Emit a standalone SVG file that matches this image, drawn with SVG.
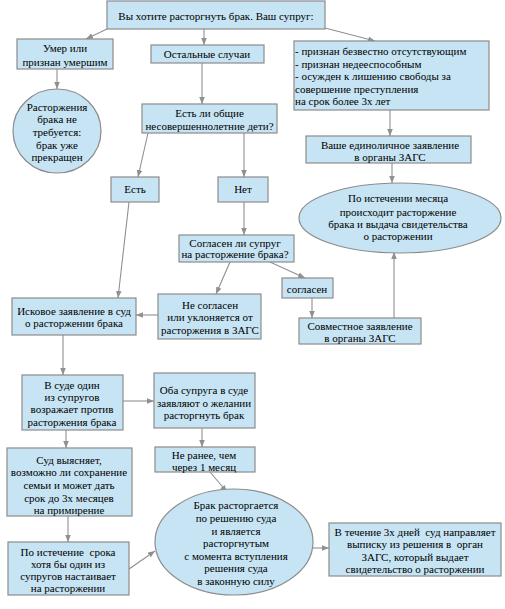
<svg xmlns="http://www.w3.org/2000/svg" width="505" height="609" viewBox="0 0 505 609" font-family="'Liberation Serif', 'Times New Roman', 'DejaVu Serif', serif">
<defs>
<style>
.b{fill:#c6e4f3;stroke:#8c8c8c;stroke-width:1.2}
.t{font-family:'Liberation Serif','Times New Roman','DejaVu Serif',serif;font-size:11px;fill:#000;text-anchor:middle;white-space:pre}
.l{text-anchor:start}
.c{fill:none;stroke:#909090;stroke-width:1.1;marker-end:url(#a)}
</style>
<marker id="a" viewBox="0 0 10 10" refX="10" refY="5" markerWidth="7" markerHeight="7" markerUnits="userSpaceOnUse" orient="auto">
<path d="M0,1 L10,5 L0,9 Z" fill="#909090"/>
</marker>
</defs>
<rect width="505" height="609" fill="#fff"/>
<g id="connectors">
<line class="c" x1="107" y1="29" x2="86" y2="39"/>
<line class="c" x1="57" y1="69" x2="57" y2="89"/>
<line class="c" x1="204" y1="29" x2="204" y2="45"/>
<line class="c" x1="325" y1="28" x2="375" y2="41"/>
<line class="c" x1="202" y1="63" x2="202" y2="104"/>
<line class="c" x1="148" y1="133" x2="138" y2="177"/>
<line class="c" x1="244" y1="133" x2="244" y2="177"/>
<line class="c" x1="390" y1="110" x2="390" y2="136"/>
<line class="c" x1="392" y1="163" x2="392" y2="183"/>
<line class="c" x1="244" y1="202" x2="244" y2="235"/>
<line class="c" x1="129" y1="202" x2="118" y2="298"/>
<line class="c" x1="230" y1="262" x2="216" y2="294"/>
<line class="c" x1="270" y1="262" x2="305" y2="278"/>
<line class="c" x1="312" y1="298" x2="312" y2="318"/>
<line class="c" x1="394" y1="318" x2="394" y2="252"/>
<line class="c" x1="158" y1="315" x2="136" y2="315"/>
<line class="c" x1="63" y1="335" x2="63" y2="375"/>
<line class="c" x1="123" y1="401" x2="154" y2="401"/>
<line class="c" x1="66" y1="430" x2="66" y2="448"/>
<line class="c" x1="202" y1="428" x2="202" y2="447"/>
<line class="c" x1="68" y1="516" x2="68" y2="542"/>
<line class="c" x1="210" y1="472" x2="227" y2="492"/>
<line class="c" x1="129" y1="569" x2="155" y2="551"/>
<line class="c" x1="313" y1="548" x2="329" y2="548"/>
</g>
<g id="start">
<rect class="b" x="107" y="1" width="218" height="28"/>
<text class="t" x="216" y="20">Вы хотите расторгнуть брак. Ваш супруг:</text>
</g>
<g id="died">
<rect class="b" x="17" y="39" width="96" height="30"/>
<text class="t" x="65" y="52">Умер или</text>
<text class="t" x="65" y="66">признан умершим</text>
</g>
<g id="no-divorce">
<ellipse class="b" cx="57" cy="131" rx="44" ry="42"/>
<text class="t" x="57" y="111">Расторжения</text>
<text class="t" x="57" y="123">брака не</text>
<text class="t" x="57" y="136">требуется:</text>
<text class="t" x="57" y="149">брак уже</text>
<text class="t" x="57" y="161">прекращен</text>
</g>
<g id="other">
<rect class="b" x="151" y="45" width="113" height="18"/>
<text class="t" x="207" y="58">Остальные случаи</text>
</g>
<g id="special">
<rect class="b" x="294" y="41" width="195" height="69"/>
<text class="t l" x="295" y="55">- признан безвестно отсутствующим</text>
<text class="t l" x="295" y="67.5">- признан недееспособным</text>
<text class="t l" x="295" y="80">- осужден к лишению свободы за</text>
<text class="t l" x="295" y="92.5">совершение преступления</text>
<text class="t l" x="295" y="105">на срок более 3х лет</text>
</g>
<g id="children">
<rect class="b" x="142" y="104" width="135" height="29"/>
<text class="t" x="209.5" y="117">Есть ли общие</text>
<text class="t" x="209.5" y="130">несовершеннолетние дети?</text>
</g>
<g id="sole">
<rect class="b" x="306" y="136" width="165" height="27"/>
<text class="t" x="390" y="149">Ваше единоличное заявление</text>
<text class="t" x="390" y="161">в органы ЗАГС</text>
</g>
<g id="month">
<ellipse class="b" cx="400" cy="218" rx="101" ry="35"/>
<text class="t" x="398" y="202">По истечении месяца</text>
<text class="t" x="398" y="216">происходит расторжение</text>
<text class="t" x="398" y="228">брака и выдача свидетельства</text>
<text class="t" x="398" y="240">о расторжении</text>
</g>
<g id="yes">
<rect class="b" x="111" y="177" width="48" height="25"/>
<text class="t" x="135" y="193">Есть</text>
</g>
<g id="no">
<rect class="b" x="218" y="177" width="50" height="25"/>
<text class="t" x="243" y="193">Нет</text>
</g>
<g id="agree-q">
<rect class="b" x="179" y="235" width="115" height="27"/>
<text class="t" x="235" y="247">Согласен ли супруг</text>
<text class="t" x="235" y="258">на расторжение брака?</text>
</g>
<g id="agree">
<rect class="b" x="282" y="278" width="51" height="20"/>
<text class="t" x="307" y="293">согласен</text>
</g>
<g id="joint">
<rect class="b" x="299" y="318" width="122" height="26"/>
<text class="t" x="360" y="330">Совместное заявление</text>
<text class="t" x="360" y="342">в органы ЗАГС</text>
</g>
<g id="disagree">
<rect class="b" x="158" y="294" width="103" height="45"/>
<text class="t" x="210" y="309">Не согласен</text>
<text class="t" x="210" y="321">или уклоняется от</text>
<text class="t" x="210" y="334">расторжения в ЗАГС</text>
</g>
<g id="claim">
<rect class="b" x="12" y="298" width="124" height="37"/>
<text class="t" x="74" y="315">Исковое заявление в суд</text>
<text class="t" x="74" y="327">о расторжении брака</text>
</g>
<g id="objects">
<rect class="b" x="22" y="375" width="101" height="55"/>
<text class="t" x="72" y="389">В суде один</text>
<text class="t" x="72" y="401">из супругов</text>
<text class="t" x="72" y="413">возражает против</text>
<text class="t" x="72" y="426">расторжения брака</text>
</g>
<g id="both">
<rect class="b" x="154" y="373" width="101" height="55"/>
<text class="t" x="204" y="394">Оба супруга в суде</text>
<text class="t" x="204" y="407">заявляют о желании</text>
<text class="t" x="204" y="419">расторгнуть брак</text>
</g>
<g id="court-checks">
<rect class="b" x="7" y="448" width="125" height="68"/>
<text class="t" x="69" y="464">Суд выясняет,</text>
<text class="t" x="69" y="476">возможно ли сохранение</text>
<text class="t" x="69" y="489">семьи и может дать</text>
<text class="t" x="69" y="502">срок до 3х месяцев</text>
<text class="t" x="69" y="514">на примирение</text>
</g>
<g id="not-earlier">
<rect class="b" x="155" y="447" width="100" height="25"/>
<text class="t" x="204" y="459">Не ранее, чем</text>
<text class="t" x="204" y="471">через 1 месяц</text>
</g>
<g id="insists">
<rect class="b" x="8" y="542" width="121" height="53"/>
<text class="t" x="68" y="556">По истечение  срока</text>
<text class="t" x="68" y="568">хотя бы один из</text>
<text class="t" x="68" y="580">супругов настаивает</text>
<text class="t" x="68" y="592">на расторжении</text>
</g>
<g id="court-divorce">
<ellipse class="b" cx="234" cy="542" rx="79" ry="53"/>
<text class="t" x="236" y="509">Брак расторгается</text>
<text class="t" x="236" y="522">по решению суда</text>
<text class="t" x="236" y="535">и является</text>
<text class="t" x="236" y="547">расторгнутым</text>
<text class="t" x="236" y="560">с момента вступления</text>
<text class="t" x="236" y="572">решения суда</text>
<text class="t" x="236" y="585">в законную силу</text>
</g>
<g id="registry">
<rect class="b" x="329" y="523" width="172" height="53"/>
<text class="t" x="415" y="536">В течение 3х дней  суд направляет</text>
<text class="t" x="415" y="548">выписку из решения в  орган</text>
<text class="t" x="415" y="561">ЗАГС, который выдает</text>
<text class="t" x="415" y="573">свидетельство о расторжении</text>
</g>
</svg>
